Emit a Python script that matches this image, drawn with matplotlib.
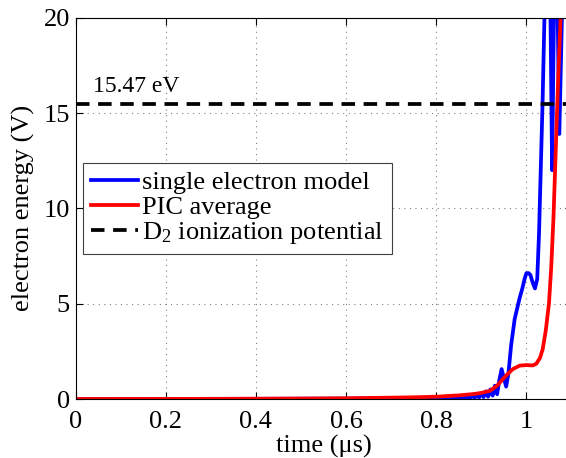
import matplotlib
matplotlib.use("Agg")
import matplotlib.pyplot as plt

plt.rcParams["font.family"] = ["Liberation Serif", "DejaVu Serif"]
plt.rcParams["mathtext.fontset"] = "custom"
plt.rcParams["mathtext.rm"] = "Liberation Serif"
plt.rcParams["mathtext.it"] = "Liberation Serif:italic"

OUTPUT_FILENAME = "out.png"

# single electron model (time in us, energy in V)
t_single = [0.0, 0.2, 0.4, 0.6, 0.7, 0.8, 0.84, 0.86, 0.865, 0.87, 0.875, 0.88,
            0.885, 0.89, 0.895, 0.90, 0.905, 0.91, 0.915, 0.92, 0.925, 0.93,
            0.935, 0.94, 0.945, 0.95, 0.955, 0.96, 0.966, 0.974, 0.985, 0.991,
            0.996, 1.0, 1.005, 1.009, 1.014, 1.019, 1.024, 1.028, 1.032, 1.036,
            1.04, 1.045, 1.0525, 1.057, 1.061, 1.067, 1.073, 1.0788, 1.085]
e_single = [0.0, 0.0, 0.01, 0.02, 0.03, 0.05, 0.07, 0.1, 0.04, 0.14, 0.05, 0.2,
            0.05, 0.25, 0.07, 0.3, 0.1, 0.4, 0.12, 0.5, 0.18, 0.7, 0.25, 1.0,
            1.57, 1.1, 0.65, 1.3, 2.8, 4.2, 5.3, 5.8,
            6.3, 6.6, 6.6, 6.5, 6.1, 5.8, 6.3, 8.7, 12.2, 15.7,
            20.0, 24.0, 22.0, 12.0, 20.0, 24.0, 13.9, 20.0, 25.0]

# PIC average
t_pic = [0.0, 0.2, 0.4, 0.5, 0.6, 0.7, 0.75, 0.8, 0.85, 0.883, 0.9, 0.919,
         0.935, 0.948, 0.96, 0.97, 0.985, 1.0, 1.014, 1.022, 1.03, 1.036,
         1.043, 1.05, 1.055, 1.06, 1.065, 1.07, 1.075, 1.08, 1.085]
e_pic = [0.0, 0.005, 0.015, 0.025, 0.04, 0.07, 0.09, 0.12, 0.19, 0.26, 0.32, 0.43,
         0.7, 1.05, 1.35, 1.57, 1.75, 1.78, 1.76, 1.85, 2.15, 2.6,
         3.6, 5.0, 6.9, 9.5, 13.0, 16.5, 19.5, 23.0, 27.0]

ionization = 15.47


def make_chart():
    fig = plt.figure(figsize=(5.66, 4.58), dpi=100)
    # the plot box runs past the right edge of the figure
    ax = fig.add_axes([75.5 / 566, 59 / 458, 496 / 566, 381.3 / 458])

    ax.plot(t_single, e_single, color="#0000ff", lw=2.7, label="single electron model")
    ax.plot(t_pic, e_pic, color="#ff0000", lw=2.7, label="PIC average")
    ax.axhline(ionization, color="black", lw=2.7, ls=(0, (3.6, 2.3)),
               label="D$_2$ ionization potential")
    ax.text(0.038, ionization + 0.35, f"{ionization:.2f} eV", fontsize=17,
            ha="left", va="bottom")

    ax.set_xlim(0, 1.1)
    ax.set_ylim(0, 20)
    ax.set_xticks([0, 0.2, 0.4, 0.6, 0.8, 1])
    ax.set_xticklabels(["0", "0.2", "0.4", "0.6", "0.8", "1"])
    ax.set_yticks([0, 5, 10, 15, 20])
    ax.tick_params(direction="in", top=True, right=True, length=5, width=0.8,
                   labelsize=19, pad=4)
    ax.tick_params(axis="x", pad=9)
    ax.grid(True, color="#808080", ls=(0, (1, 4)), lw=0.8)
    for s in ax.spines.values():
        s.set_linewidth(0.8)

    ax.set_xlabel("time (\u03bcs)", fontsize=19, labelpad=1)
    ax.set_ylabel("electron energy (V)", fontsize=19, labelpad=6)

    leg = ax.legend(loc="lower left", bbox_to_anchor=(0.015, 0.38), fontsize=19,
                    handlelength=1.8, handletextpad=0.15, labelspacing=0.05,
                    borderpad=0.3, borderaxespad=0, fancybox=False,
                    framealpha=1, edgecolor="#404040")
    leg.get_frame().set_linewidth(0.8)

    fig.savefig(OUTPUT_FILENAME, dpi=100)
    plt.close(fig)


if __name__ == "__main__":
    make_chart()
